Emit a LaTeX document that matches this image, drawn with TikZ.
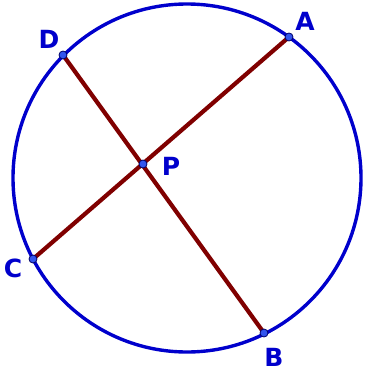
\documentclass[tikz,border=0pt]{standalone}
\usepackage{fontspec}
\setmainfont{DejaVu Sans}
\usepackage{xcolor}
\definecolor{gbblue}{HTML}{0000CC}
\definecolor{gbred}{HTML}{800000}
\definecolor{gbdot}{HTML}{3355EE}
\tikzset{
  chord/.style={draw=gbred, line width=4.2pt},
  rim/.style={draw=gbblue, line width=3.4pt},
  pt/.style={circle, fill=gbdot, draw=gbblue!50!black, line width=0.8pt, inner sep=0pt, minimum size=8pt},
  lbl/.style={text=gbblue, font=\fontsize{25}{25}\selectfont\bfseries, inner sep=0pt}
}
\begin{document}
\begin{tikzpicture}[x=1pt, y=-1pt]
  \useasboundingbox (0,0) rectangle (364,372);
  \coordinate (O) at (187,178);
  \coordinate (A) at (289,37);
  \coordinate (B) at (264,333);
  \coordinate (C) at (33,259);
  \coordinate (D) at (63,55);
  \coordinate (P) at (143,164);
  \draw[rim] (O) circle (174pt);
  \draw[chord] (A) -- (C);
  \draw[chord] (D) -- (B);
  \foreach \p in {A,B,C,D,P}
    \node[pt] (dot\p) at (\p) {};
  \node[lbl] (labA) at (305,21) {A};
  \node[lbl] (labB) at (274,357) {B};
  \node[lbl] (labC) at (13,268) {C};
  \node[lbl] (labD) at (49,39) {D};
  \node[lbl] (labP) at (171,166) {P};
\end{tikzpicture}
\end{document}
